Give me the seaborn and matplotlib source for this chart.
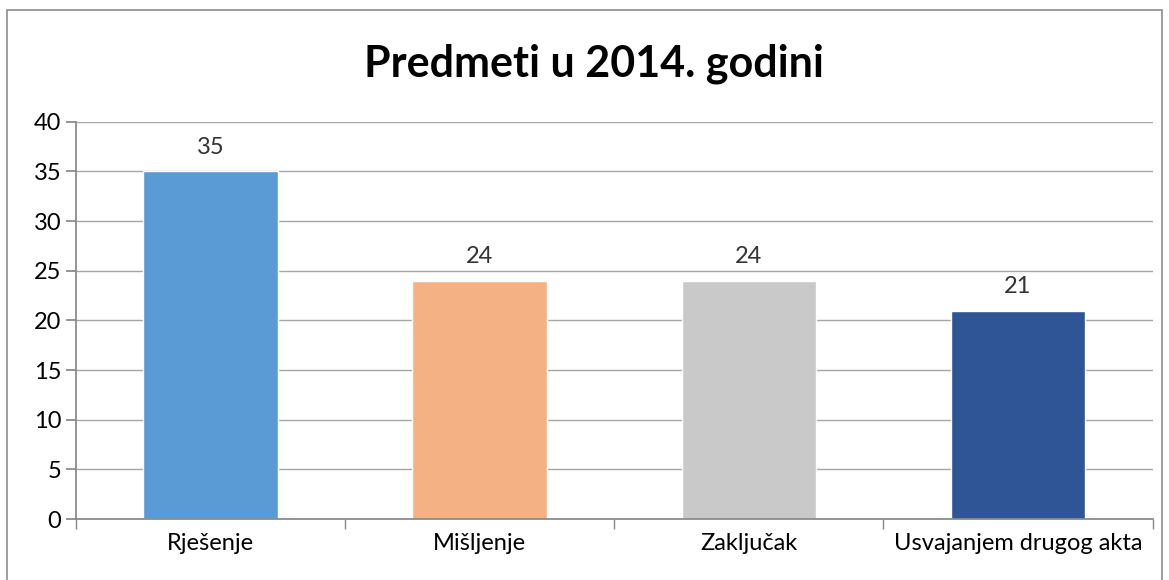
import matplotlib
matplotlib.use("Agg")
import matplotlib.pyplot as plt
import seaborn as sns
import pandas as pd
from matplotlib.patches import Rectangle

# chart data
categories = ["Rješenje", "Mišljenje", "Zaključak", "Usvajanjem drugog akta"]
counts = [35, 24, 24, 21]
bar_colors = ["#5B9BD5", "#F4B183", "#C9C9C9", "#2F5597"]
y_ticks = [0, 5, 10, 15, 20, 25, 30, 35, 40]

df = pd.DataFrame({"kategorija": categories, "broj": counts})

sns.set_theme(style="white")
plt.rcParams["font.family"] = ["Lato", "DejaVu Sans"]

fig = plt.figure(figsize=(11.69, 5.8), dpi=100)
ax = fig.add_axes([0.065, 0.105, 0.921, 0.685])

sns.barplot(data=df, x="kategorija", y="broj", hue="kategorija",
            palette=bar_colors, width=0.5, legend=False, ax=ax, saturation=1)

ax.set_ylim(0, 40)
ax.set_xlim(-0.5, len(categories) - 0.5)
ax.set_yticks(y_ticks)
ax.yaxis.grid(True, color="#A6A6A6", linewidth=1)
ax.set_axisbelow(True)
for s in ["top", "right"]:
    ax.spines[s].set_visible(False)
ax.spines["left"].set_color("#888888")
ax.spines["bottom"].set_color("#888888")

# category separators below the x axis
ax.set_xticks([i + 0.5 for i in range(-1, len(categories))], minor=True)
ax.tick_params(axis="x", which="minor", length=7, color="#888888", direction="out", bottom=True)
ax.tick_params(axis="x", which="major", length=0, labelsize=17, pad=10, colors="black")
ax.tick_params(axis="y", length=7, color="#888888", direction="out", left=True, labelsize=17, colors="black")
ax.set_xlabel("")
ax.set_ylabel("")

for i, v in enumerate(counts):
    ax.text(i, v + 1.4, str(v), ha="center", va="bottom", fontsize=17, color="#333333")

fig.text(0.508, 0.89, "Predmeti u 2014. godini", ha="center", va="center",
         fontsize=31, fontweight="bold", color="black")

fig.patches.append(Rectangle((0.006, -0.02), 0.988, 1 - 0.017 + 0.02, transform=fig.transFigure,
                             fill=False, edgecolor="#8C8C8C", linewidth=1.2))

fig.savefig("out.png", dpi=100, facecolor="white")
